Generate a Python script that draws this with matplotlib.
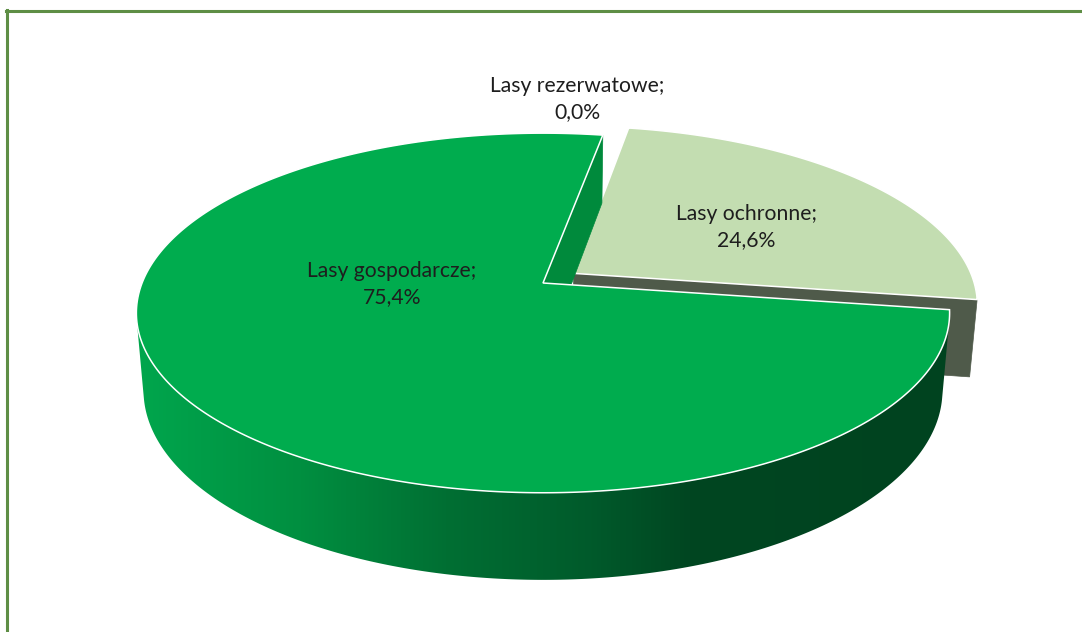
import numpy as np
import matplotlib
matplotlib.use("Agg")
import matplotlib.pyplot as plt
from matplotlib.patches import Polygon
from matplotlib.colors import LinearSegmentedColormap
from matplotlib.lines import Line2D

# ---------------- data ----------------
categories = ["Lasy ochronne", "Lasy gospodarcze", "Lasy rezerwatowe"]
shares = [24.6, 75.4, 0.0]

# ---------------- style / layout ----------------
explode = [0.095, 0.0, 0.0]
top_colors = ["#C3DDB1", "#00AC4E", "#00AC4E"]
cut_colors = ["#4F5A4A", "#008A3C", "#008A3C"]
label_pos = [(746, 220), (392, 277), (577, 92)]   # baseline of first label line (px)
LINE_GAP = 26
START = 80.0          # first slice angle (deg, CCW from 3 o'clock), drawn clockwise

W, H = 1082, 632
CX, CY = 543.0, 283.0
FOC, DIST = 2165.0, 5.4
ELEV = np.arcsin(0.436)
THICK = 0.2155
SE, CE = np.sin(ELEV), np.cos(ELEV)


def project(x, z, h):
    x = np.asarray(x, float); z = np.asarray(z, float); h = np.asarray(h, float)
    ry = h - DIST * SE
    rz = z + DIST * CE
    depth = -ry * SE + rz * CE
    ys = ry * CE + rz * SE
    return CX + FOC * x / depth, CY - FOC * ys / depth


def facing(px, pz, nx, nz):
    # dot((P - C), n) with n horizontal
    return px * nx + (pz + DIST * CE) * nz < 0


fig = plt.figure(figsize=(W / 100, H / 100), dpi=100)
ax = fig.add_axes([0, 0, 1, 1])
ax.set_xlim(0, W)
ax.set_ylim(H, 0)
ax.axis("off")

side_cmap = LinearSegmentedColormap.from_list(
    "side",
    [(0.0, "#00A64D"), (0.2, "#008F40"), (0.38, "#006F33"),
     (0.56, "#005A2B"), (0.68, "#004621"), (1.0, "#00431F")])

total = sum(shares)
slices = []
cur = START
for i, v in enumerate(shares):
    sweep = v / total * 360.0
    hi = cur
    lo = cur - sweep
    cur = lo
    mid = np.radians((lo + hi) / 2)
    ox, oz = explode[i] * np.cos(mid), explode[i] * np.sin(mid)
    slices.append(dict(i=i, lo=lo, hi=hi, ox=ox, oz=oz,
                       depth=np.sin(mid) * 0.5 + oz))

# far slices first
for s in sorted(slices, key=lambda d: -d["depth"]):
    i, lo, hi, ox, oz = s["i"], s["lo"], s["hi"], s["ox"], s["oz"]
    if hi - lo <= 0:
        continue
    z0 = 1.0 + i * 0.1
    phis = np.radians(np.linspace(lo, hi, 600))
    # ---- outer side ----
    vis = facing(np.cos(phis) + ox, np.sin(phis) + oz, np.cos(phis), np.sin(phis))
    if vis.any():
        idx = np.where(vis)[0]
        ph = phis[idx[0]:idx[-1] + 1]
        tx, ty = project(np.cos(ph) + ox, np.sin(ph) + oz, 0 * ph)
        bx, by = project(np.cos(ph) + ox, np.sin(ph) + oz, 0 * ph - THICK)
        poly = np.column_stack([np.r_[tx, bx[::-1]], np.r_[ty, by[::-1]]])
        patch = Polygon(poly, closed=True, facecolor="none", edgecolor="none", zorder=z0)
        ax.add_patch(patch)
        grad = np.linspace(0, 1, 512)[None, :]
        im = ax.imshow(grad, cmap=side_cmap, aspect="auto",
                       extent=(137, 950, H, 0), zorder=z0, interpolation="bilinear")
        im.set_clip_path(patch)
    # ---- cut faces ----
    for ang, sgn in ((lo, -1), (hi, 1)):
        a = np.radians(ang)
        na = a + sgn * np.pi / 2
        if not facing(ox, oz, np.cos(na), np.sin(na)):
            continue
        xs = [ox, ox + np.cos(a), ox + np.cos(a), ox]
        zs = [oz, oz + np.sin(a), oz + np.sin(a), oz]
        hs = [0, 0, -THICK, -THICK]
        px, py = project(xs, zs, hs)
        ax.add_patch(Polygon(np.column_stack([px, py]), closed=True,
                             facecolor=cut_colors[i], edgecolor=cut_colors[i],
                             lw=0.5, zorder=z0 + 0.01))
    # ---- top face ----
    tx, ty = project(np.cos(phis) + ox, np.sin(phis) + oz, 0 * phis)
    cx0, cy0 = project(ox, oz, 0)
    poly = np.column_stack([np.r_[cx0, tx, cx0], np.r_[cy0, ty, cy0]])
    ax.add_patch(Polygon(poly, closed=True, facecolor=top_colors[i],
                         edgecolor="white", lw=1.1, joinstyle="miter",
                         zorder=z0 + 0.02))

# ---------------- labels ----------------
for i, (name, v) in enumerate(zip(categories, shares)):
    lx, ly = label_pos[i]
    pct = f"{v:.1f}".replace(".", ",") + "%"
    ax.text(lx, ly, name + ";", ha="center", va="baseline", fontsize=15.2,
            family=["Lato", "DejaVu Sans"], color="#1E1E1E", zorder=10)
    ax.text(lx, ly + LINE_GAP, pct, ha="center", va="baseline", fontsize=15.2,
            family=["Lato", "DejaVu Sans"], color="#1E1E1E", zorder=10)

# ---------------- frame ----------------
ax.add_line(Line2D([6, W], [10.5, 10.5], color="#5E8E45", lw=2.2, zorder=20))
ax.add_line(Line2D([7, 7], [9.5, H], color="#5E8E45", lw=2.2, zorder=20))

fig.savefig("out.png", dpi=100, facecolor="white")
